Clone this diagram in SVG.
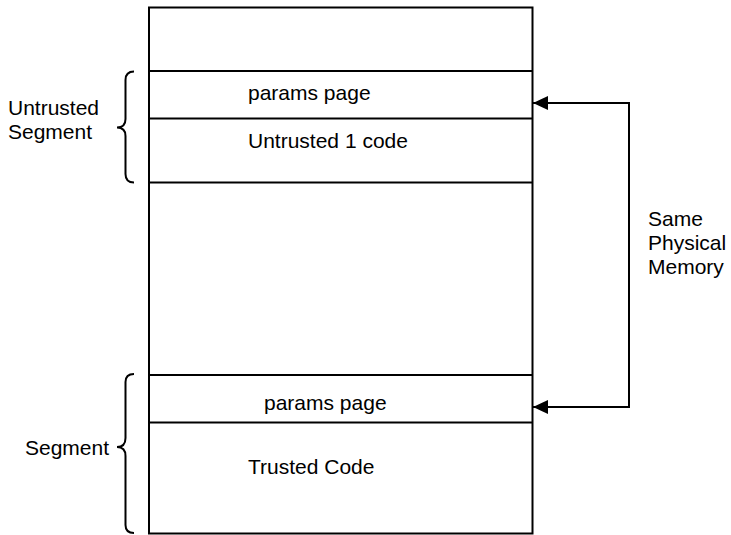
<svg xmlns="http://www.w3.org/2000/svg" width="731" height="535" viewBox="0 0 731 535">
<style>
text{font-family:"Liberation Sans",Arial,sans-serif;font-size:21px;fill:#000}
.ln{stroke:#000;stroke-width:2;fill:none}
.br{stroke:#000;stroke-width:2;fill:none}
</style>
<defs>
<marker id="ah" markerWidth="15" markerHeight="14" refX="15" refY="7" orient="auto" markerUnits="userSpaceOnUse">
<path d="M0,0 L15,7 L0,14 Z" fill="#000"/>
</marker>
</defs>
<rect width="731" height="535" fill="#fff"/>
<g id="memory">
<rect class="ln" x="149" y="7.5" width="383.5" height="526"/>
<line class="ln" x1="149" y1="71" x2="532.5" y2="71"/>
<line class="ln" x1="149" y1="118.5" x2="532.5" y2="118.5"/>
<line class="ln" x1="149" y1="182.5" x2="532.5" y2="182.5"/>
<line class="ln" x1="149" y1="375" x2="532.5" y2="375"/>
<line class="ln" x1="149" y1="422.5" x2="532.5" y2="422.5"/>
</g>
<g id="untrusted-params"><text x="248" y="100">params page</text></g>
<g id="untrusted-code"><text x="248" y="148">Untrusted 1 code</text></g>
<g id="trusted-params"><text x="264" y="410">params page</text></g>
<g id="trusted-code"><text x="248" y="474">Trusted Code</text></g>
<g id="untrusted-segment">
<path class="br" d="M134,71.5 Q125.5,71.5 125.5,80 L125.5,119 Q125.5,127.5 117,127.5 Q125.5,127.5 125.5,136 L125.5,174 Q125.5,182.5 134,182.5"/>
<text x="8" y="115">Untrusted</text>
<text x="8" y="139">Segment</text>
</g>
<g id="segment">
<path class="br" d="M134,374 Q125.5,374 125.5,382 L125.5,438 Q125.5,447 117,447 Q125.5,447 125.5,456 L125.5,525 Q125.5,533 134,533"/>
<text x="25" y="455">Segment</text>
</g>
<g id="connectors">
<path class="ln" d="M629,103 L533,103" marker-end="url(#ah)"/>
<path class="ln" d="M629,102 L629,408"/>
<path class="ln" d="M629,407 L533,407" marker-end="url(#ah)"/>
</g>
<g id="label"><text x="648" y="226">Same</text><text x="648" y="250">Physical</text><text x="648" y="274">Memory</text></g>
</svg>
